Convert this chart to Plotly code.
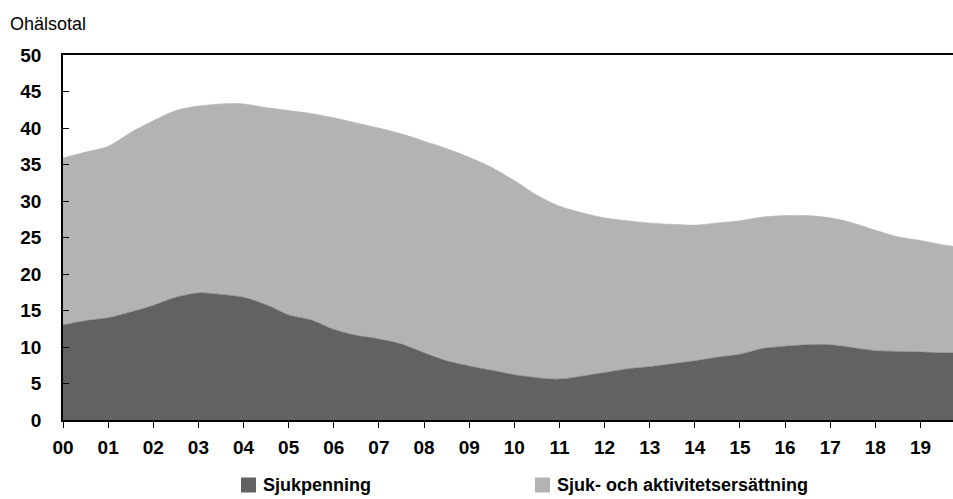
import plotly.graph_objects as go

# Time in years since 2000 (half-year steps), end at the right edge
t = [0.0, 0.5, 1.0, 1.5, 2.0, 2.5, 3.0, 3.5, 4.0, 4.5, 5.0, 5.5, 6.0, 6.5, 7.0, 7.5,
     8.0, 8.5, 9.0, 9.5, 10.0, 10.5, 11.0, 11.5, 12.0, 12.5, 13.0, 13.5, 14.0, 14.5,
     15.0, 15.5, 16.0, 16.5, 17.0, 17.5, 18.0, 18.5, 19.0, 19.5, 19.72]

sjukpenning = [13.0, 13.6, 14.0, 14.8, 15.7, 16.8, 17.4, 17.2, 16.8, 15.8, 14.4, 13.7,
               12.4, 11.6, 11.1, 10.4, 9.2, 8.1, 7.4, 6.8, 6.2, 5.8, 5.6, 6.0, 6.5,
               7.0, 7.3, 7.7, 8.1, 8.6, 9.0, 9.8, 10.1, 10.3, 10.3, 9.9, 9.5, 9.4,
               9.3, 9.2, 9.2]

sjuk_aktivitet = [22.9, 23.1, 23.5, 24.6, 25.3, 25.6, 25.6, 26.1, 26.5, 27.0, 28.0, 28.3,
                  29.0, 29.1, 28.9, 28.8, 29.0, 29.1, 28.6, 27.8, 26.6, 25.0, 23.7, 22.4,
                  21.2, 20.3, 19.7, 19.1, 18.6, 18.4, 18.3, 18.0, 17.9, 17.7, 17.4, 17.1,
                  16.5, 15.7, 15.3, 14.8, 14.6]

tick_vals = list(range(20))
tick_text = ["00", "01", "02", "03", "04", "05", "06", "07", "08", "09",
             "10", "11", "12", "13", "14", "15", "16", "17", "18", "19"]

series_names = ["Sjukpenning", "Sjuk- och aktivitetsersättning"]
dark = "#626262"
light = "#b3b3b3"

fig = go.Figure()
fig.add_trace(go.Scatter(x=t, y=sjukpenning, stackgroup="s", name=series_names[0],
                         line=dict(color=dark, width=0.5, shape="spline", smoothing=0.8),
                         fillcolor=dark, showlegend=False))
fig.add_trace(go.Scatter(x=t, y=sjuk_aktivitet, stackgroup="s", name=series_names[1],
                         line=dict(color=light, width=0.5, shape="spline", smoothing=0.8),
                         fillcolor=light, showlegend=False))

W, H = 953, 499
ml, mr, mt, mb = 63, 0, 55, 79

tickfont = dict(family="Liberation Sans, Arial, sans-serif", size=19, color="black", weight="bold")

fig.update_layout(
    width=W, height=H,
    margin=dict(l=ml, r=mr, t=mt, b=mb),
    paper_bgcolor="white", plot_bgcolor="white",
    title=dict(text="Ohälsotal", x=10 / W, xanchor="left", xref="container",
               y=1 - 24 / H, yanchor="middle", yref="container",
               font=dict(family="Liberation Sans, Arial, sans-serif", size=18, color="black")),
    xaxis=dict(range=[0, 19.72], tickvals=tick_vals, ticktext=tick_text,
               showline=True, linecolor="black", linewidth=1.5, mirror=True,
               ticks="outside", ticklen=6, tickcolor="black", tickwidth=1,
               showgrid=False, zeroline=False, tickfont=tickfont,
               ticklabelstandoff=3),
    yaxis=dict(range=[0, 50], tickvals=list(range(0, 51, 5)),
               showline=True, linecolor="black", linewidth=1.5,
               ticks="inside", ticklen=6, tickcolor="black", tickwidth=1,
               showgrid=False, zeroline=False, tickfont=tickfont,
               ticklabelstandoff=16),
)

# Legend drawn manually (squares + labels) below the plot
leg_font = dict(family="Liberation Sans, Arial, sans-serif", size=18, color="black", weight="bold")
pw, ph = W - ml - mr, H - mt - mb
leg_items = [(241, dark, series_names[0]), (535, light, series_names[1])]
yc = 485
for x0, col, name in leg_items:
    fig.add_shape(type="rect", xref="paper", yref="paper",
                  x0=(x0 - ml) / pw, x1=(x0 + 15 - ml) / pw,
                  y0=(H - mb - (yc + 7.5)) / ph, y1=(H - mb - (yc - 7.5)) / ph,
                  fillcolor=col, line=dict(width=0))
    fig.add_annotation(xref="paper", yref="paper",
                       x=(x0 + 20 - ml) / pw,
                       y=(H - mb - yc) / ph,
                       xanchor="left", yanchor="middle", showarrow=False,
                       text=name, font=leg_font)

fig.write_html("out.html", config={"displayModeBar": False},
               post_script="document.body.style.margin='0';document.body.style.overflow='hidden';")
